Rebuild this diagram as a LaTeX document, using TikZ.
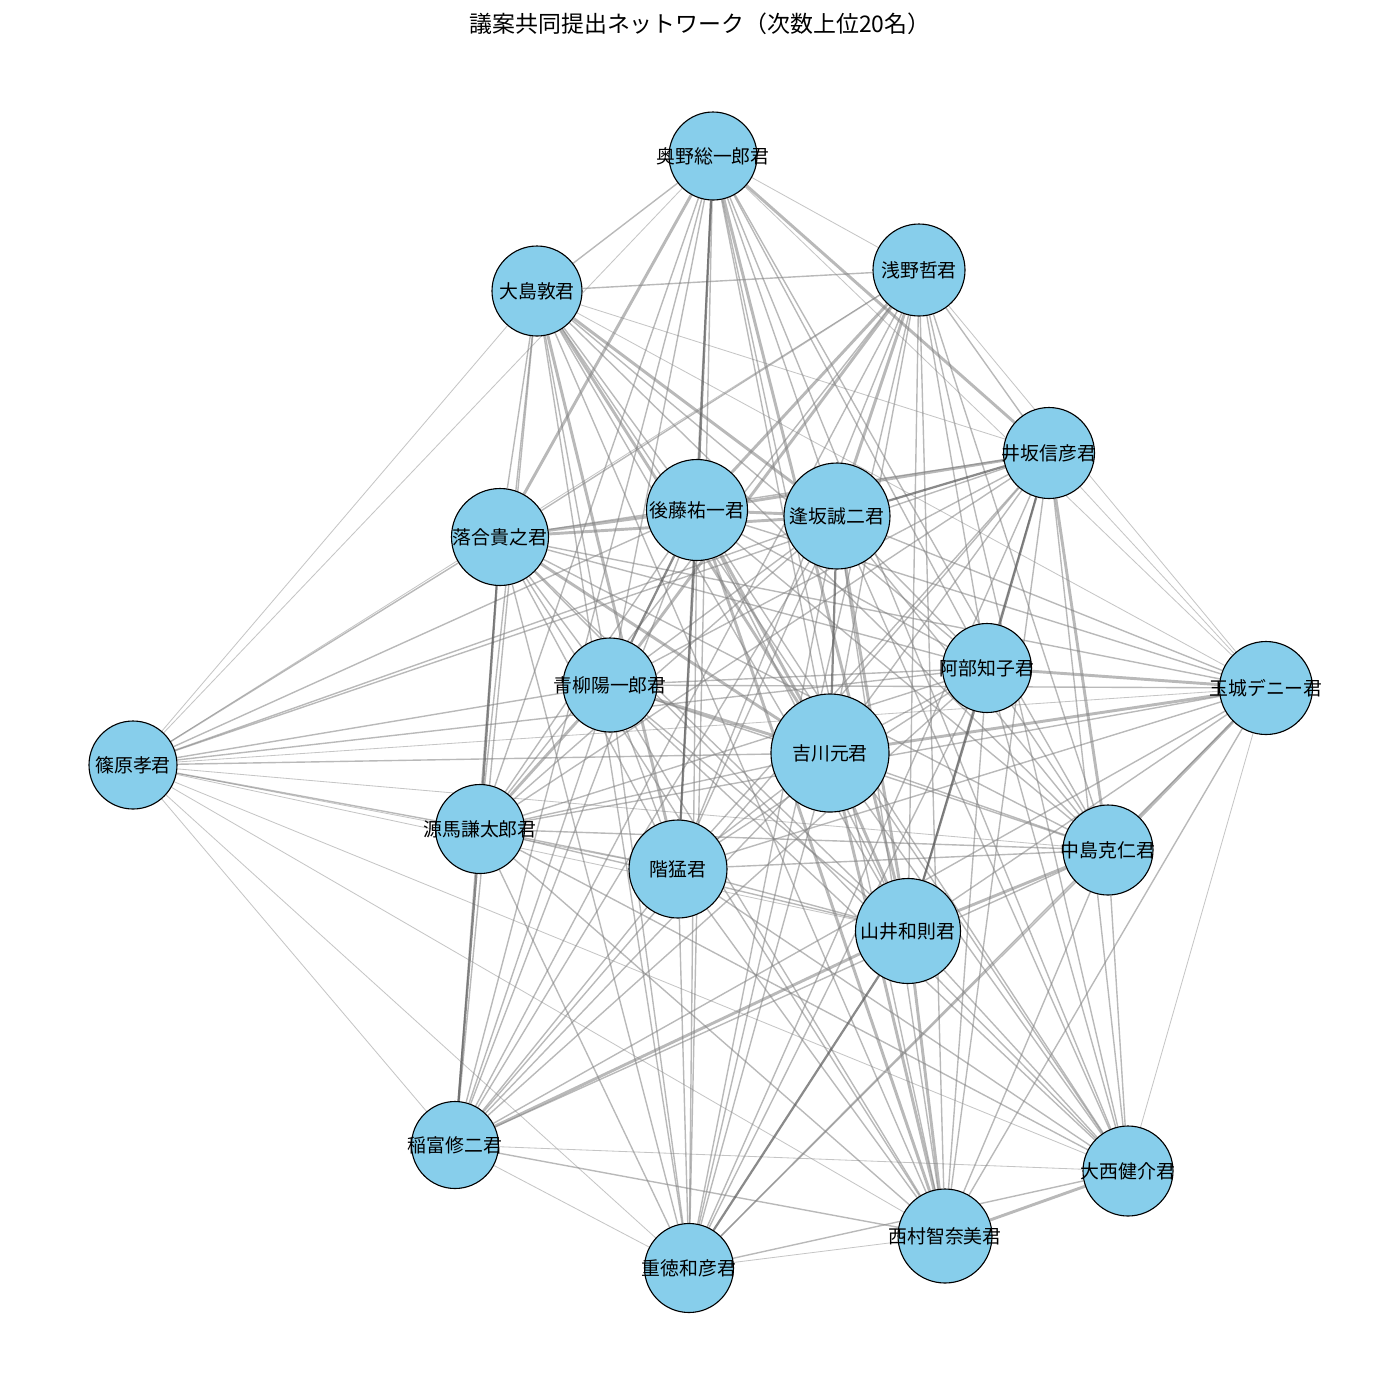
\documentclass[tikz,border=0pt]{standalone}
\usepackage{fontspec}
\setmainfont{Noto Sans CJK JP}
\definecolor{skyblue}{HTML}{87CEEB}
\pgfdeclarelayer{bg}
\pgfsetlayers{bg,main}
\begin{document}
\begin{tikzpicture}[x=0.72pt,y=-0.72pt,
  pers/.style={circle,draw=black,line width=0.8pt,fill=skyblue,inner sep=0pt,minimum size=#1*1.44pt},
  lbl/.style={font=\fontsize{13.6}{16}\selectfont,inner sep=0pt,text=black},
  ttl/.style={font=\fontsize{16.5}{20}\selectfont,inner sep=0pt},
  ew1/.style={draw=black!50,line width=0.6pt,draw opacity=0.45},
  ew2/.style={draw=black!50,line width=1pt,draw opacity=0.55},
  ew3/.style={draw=black!50,line width=2.1pt,draw opacity=0.55},
  ew4/.style={draw=black!65,line width=1.6pt,draw opacity=0.7}]
\useasboundingbox (0,0) rectangle (1400,1400);
\node[ttl] (title) at (700,24) {議案共同提出ネットワーク（次数上位20名）};
% nodes
\node[pers=44,label={[lbl]center:奥野総一郎君}] (okuno) at (713,156) {};
\node[pers=46,label={[lbl]center:浅野哲君}] (asano) at (919,270) {};
\node[pers=45,label={[lbl]center:大島敦君}] (oshima) at (537,291) {};
\node[pers=45.5,label={[lbl]center:井坂信彦君}] (isaka) at (1049,453) {};
\node[pers=50.5,label={[lbl]center:後藤祐一君}] (goto) at (697,510) {};
\node[pers=53,label={[lbl]center:逢坂誠二君}] (osaka) at (837,516) {};
\node[pers=48.5,label={[lbl]center:落合貴之君}] (ochiai) at (500,537) {};
\node[pers=44.5,label={[lbl]center:阿部知子君}] (abe) at (987,668) {};
\node[pers=46.5,label={[lbl]center:玉城デニー君}] (tamaki) at (1266,688) {};
\node[pers=47,label={[lbl]center:青柳陽一郎君}] (aoyagi) at (610,685) {};
\node[pers=59,label={[lbl]center:吉川元君}] (yoshikawa) at (830,753) {};
\node[pers=44,label={[lbl]center:篠原孝君}] (shinohara) at (133,765) {};
\node[pers=44.5,label={[lbl]center:源馬謙太郎君}] (genma) at (480,829) {};
\node[pers=45,label={[lbl]center:中島克仁君}] (nakajima) at (1108,850) {};
\node[pers=49,label={[lbl]center:階猛君}] (shina) at (678,869) {};
\node[pers=52.5,label={[lbl]center:山井和則君}] (yamai) at (908,931) {};
\node[pers=43.5,label={[lbl]center:稲富修二君}] (inatomi) at (455,1145) {};
\node[pers=45,label={[lbl]center:大西健介君}] (onishi) at (1128,1171) {};
\node[pers=47,label={[lbl]center:西村智奈美君}] (nishimura) at (945,1236) {};
\node[pers=44.5,label={[lbl]center:重徳和彦君}] (shigetoku) at (689,1268) {};
% edges
\begin{pgfonlayer}{bg}
\fill[white] (0,0) rectangle (1400,1400);
\foreach \a/\b in {shinohara/okuno, shinohara/oshima, shinohara/inatomi, shinohara/shigetoku, shinohara/nishimura, shinohara/onishi, shinohara/tamaki, shinohara/nakajima, tamaki/onishi, tamaki/isaka, okuno/asano, asano/tamaki, okuno/tamaki, oshima/isaka, shigetoku/nishimura, oshima/tamaki, inatomi/onishi, inatomi/shigetoku, shinohara/yamai, shinohara/shina, asano/shinohara}
  \draw[ew1] (\a) -- (\b);
\foreach \a/\b in {okuno/oshima, okuno/osaka, okuno/abe, okuno/aoyagi, okuno/yoshikawa, okuno/genma, okuno/nakajima, okuno/shina, okuno/inatomi, okuno/onishi, okuno/nishimura, okuno/shigetoku,
  asano/oshima, asano/isaka, asano/ochiai, asano/abe, asano/yoshikawa, asano/genma, asano/nakajima, asano/shina, asano/yamai, asano/inatomi, asano/onishi, asano/nishimura, asano/shigetoku,
  oshima/goto, oshima/ochiai, oshima/abe, oshima/aoyagi, oshima/genma, oshima/nakajima, oshima/yamai, oshima/inatomi, oshima/onishi, oshima/nishimura, oshima/shigetoku,
  isaka/ochiai, isaka/aoyagi, isaka/yoshikawa, isaka/shinohara, isaka/genma, isaka/shina, isaka/yamai, isaka/inatomi, isaka/onishi, isaka/nishimura, isaka/shigetoku,
  goto/abe, goto/tamaki, goto/shinohara, goto/genma, goto/nakajima, goto/yamai, goto/inatomi, goto/onishi, goto/shigetoku,
  osaka/abe, osaka/tamaki, osaka/aoyagi, osaka/shinohara, osaka/genma, osaka/nakajima, osaka/shina, osaka/inatomi, osaka/onishi, osaka/nishimura, osaka/shigetoku,
  ochiai/abe, ochiai/tamaki, ochiai/aoyagi, ochiai/shinohara, ochiai/nakajima, ochiai/shina, ochiai/yamai, ochiai/inatomi, ochiai/onishi, ochiai/nishimura, ochiai/shigetoku,
  abe/aoyagi, abe/yoshikawa, abe/shinohara, abe/genma, abe/nakajima, abe/shina, abe/inatomi, abe/onishi, abe/nishimura, abe/shigetoku,
  tamaki/aoyagi, tamaki/genma, tamaki/shina, tamaki/yamai, tamaki/inatomi, tamaki/nishimura, tamaki/shigetoku,
  aoyagi/shinohara, aoyagi/nakajima, aoyagi/shina, aoyagi/yamai, aoyagi/inatomi, aoyagi/onishi, aoyagi/nishimura, aoyagi/shigetoku,
  yoshikawa/shinohara, yoshikawa/genma, yoshikawa/nakajima, yoshikawa/shina, yoshikawa/inatomi, yoshikawa/onishi, yoshikawa/shigetoku,
  shinohara/genma, genma/nakajima, genma/shina, genma/yamai, genma/onishi, genma/nishimura, genma/shigetoku,
  nakajima/shina, nakajima/inatomi, nakajima/onishi, nakajima/nishimura, nakajima/shigetoku,
  shina/yamai, shina/inatomi, shina/onishi, shina/nishimura, shina/shigetoku,
  yamai/onishi, inatomi/nishimura, onishi/shigetoku}
  \draw[ew2] (\a) -- (\b);
\foreach \a/\b in {goto/ochiai, osaka/ochiai, goto/osaka, isaka/goto, tamaki/yoshikawa, isaka/nakajima, nakajima/yamai, yoshikawa/yamai, yoshikawa/nishimura, oshima/yoshikawa, oshima/shina, okuno/ochiai, okuno/isaka, goto/yoshikawa, osaka/yamai, asano/osaka, asano/goto, asano/aoyagi, inatomi/yamai, nishimura/onishi, yamai/nishimura, aoyagi/yoshikawa, oshima/osaka, okuno/yamai, ochiai/yoshikawa, tamaki/nakajima, aoyagi/genma, abe/tamaki, goto/nishimura}
  \draw[ew3] (\a) -- (\b);
\foreach \a/\b in {isaka/osaka, yamai/abe, isaka/abe, genma/ochiai, genma/inatomi, okuno/goto, goto/shina, shigetoku/yamai, osaka/yoshikawa, aoyagi/goto}
  \draw[ew4] (\a) -- (\b);
\end{pgfonlayer}
\end{tikzpicture}
\end{document}
